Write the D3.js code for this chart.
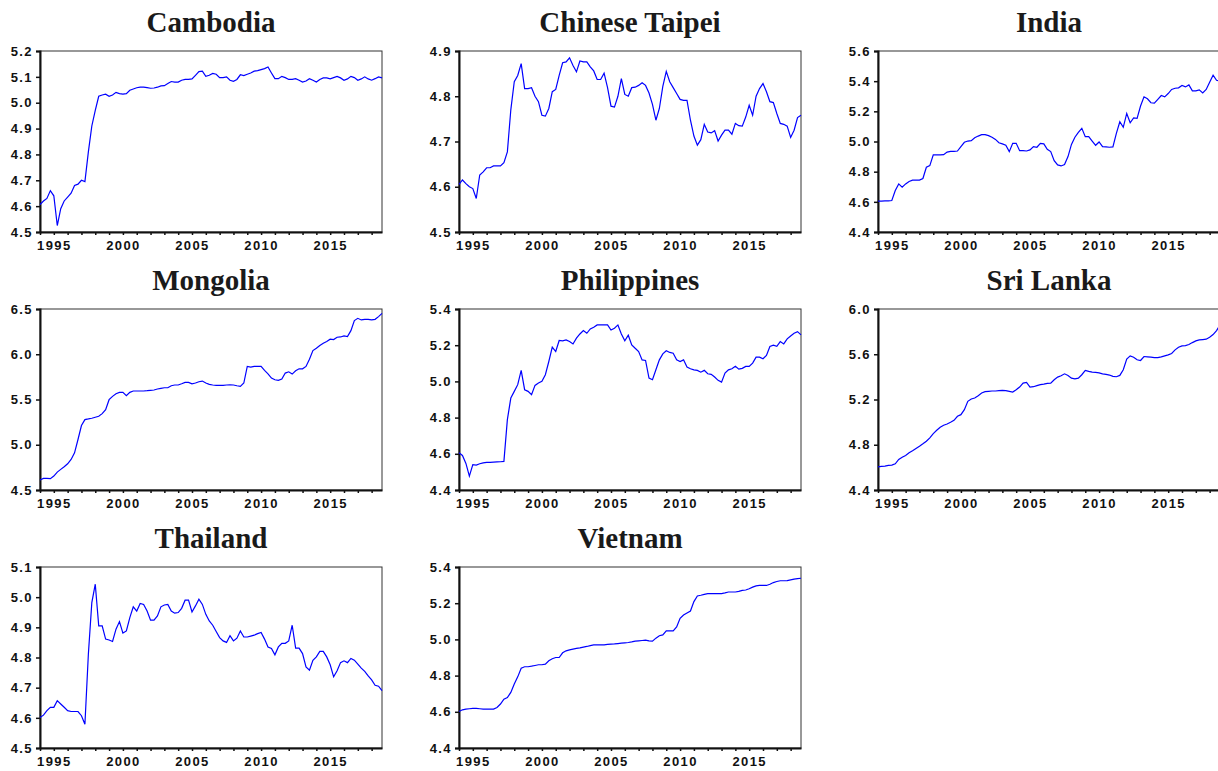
<!DOCTYPE html>
<html>
<head>
<meta charset="utf-8">
<script src="https://cdn.jsdelivr.net/npm/d3@7"></script>
<style>
  body { margin: 0; background: #fff; }
  svg { display: block; }
  .title { font-family: "Liberation Serif", "Times New Roman", serif; font-weight: bold; font-size: 29px; fill: #1a1a1a; }
  .tick text { font-family: "Liberation Sans", Arial, sans-serif; font-weight: bold; font-size: 13px; fill: #111; letter-spacing: 1.4px; }
</style>
</head>
<body>
<div id="chart"></div>
<script>
// quarterly series, 1994Q1 - 2018Q4
startYear = 1994
nObs = 100

countries = ['Cambodia', 'Chinese Taipei', 'India', 'Mongolia', 'Philippines', 'Sri Lanka', 'Thailand', 'Vietnam']

cambodia = [4.606,4.62,4.63,4.66,4.64,4.525,4.59,4.62,4.635,4.65,4.68,4.685,4.70,4.695,4.81,4.91,4.97,5.025,5.03,5.033,
  5.025,5.03,5.04,5.035,5.033,5.035,5.048,5.053,5.058,5.06,5.06,5.058,5.056,5.057,5.06,5.065,5.066,5.074,5.082,5.08,
  5.08,5.087,5.09,5.09,5.092,5.106,5.12,5.122,5.102,5.106,5.113,5.11,5.097,5.097,5.1,5.087,5.083,5.09,5.108,5.105,
  5.11,5.115,5.122,5.124,5.128,5.132,5.138,5.115,5.093,5.093,5.102,5.097,5.09,5.09,5.093,5.087,5.08,5.084,5.093,5.087,
  5.08,5.09,5.096,5.096,5.092,5.097,5.102,5.096,5.087,5.092,5.102,5.097,5.087,5.092,5.1,5.092,5.087,5.093,5.1,5.096]

taipei = [4.605,4.615,4.607,4.60,4.596,4.574,4.626,4.633,4.642,4.642,4.646,4.646,4.646,4.653,4.677,4.77,4.832,4.846,4.872,4.817,
  4.817,4.819,4.80,4.788,4.758,4.756,4.773,4.81,4.815,4.846,4.874,4.876,4.885,4.868,4.854,4.878,4.876,4.876,4.865,4.856,
  4.837,4.837,4.851,4.819,4.778,4.776,4.80,4.839,4.804,4.80,4.819,4.82,4.824,4.83,4.824,4.807,4.782,4.747,4.773,4.822,
  4.855,4.832,4.819,4.806,4.793,4.791,4.791,4.747,4.712,4.692,4.704,4.738,4.721,4.719,4.724,4.701,4.714,4.725,4.725,4.716,
  4.74,4.735,4.734,4.754,4.78,4.758,4.80,4.817,4.828,4.81,4.788,4.786,4.762,4.74,4.738,4.734,4.709,4.725,4.753,4.758]

india = [4.605,4.605,4.607,4.607,4.609,4.675,4.719,4.697,4.719,4.735,4.744,4.744,4.744,4.755,4.829,4.84,4.911,4.911,4.911,4.913,
  4.93,4.935,4.935,4.937,4.966,4.995,5.003,5.006,5.025,5.036,5.045,5.045,5.039,5.028,5.014,4.992,4.984,4.975,4.933,4.988,
  4.988,4.939,4.939,4.937,4.944,4.966,4.962,4.988,4.984,4.948,4.933,4.873,4.845,4.838,4.847,4.90,4.981,5.028,5.061,5.087,
  5.032,5.032,5.003,4.975,4.997,4.966,4.964,4.962,4.964,5.054,5.131,5.094,5.186,5.124,5.157,5.153,5.235,5.296,5.283,5.257,
  5.254,5.279,5.305,5.296,5.318,5.345,5.353,5.356,5.371,5.362,5.375,5.336,5.336,5.342,5.322,5.345,5.393,5.44,5.406,5.40]

mongolia = [4.61,4.628,4.628,4.625,4.654,4.698,4.728,4.757,4.79,4.838,4.911,5.058,5.212,5.278,5.285,5.293,5.304,5.315,5.344,5.388,
  5.498,5.535,5.564,5.579,5.579,5.542,5.579,5.594,5.594,5.594,5.594,5.597,5.601,5.605,5.616,5.623,5.63,5.63,5.652,5.66,
  5.66,5.674,5.689,5.689,5.674,5.682,5.696,5.704,5.682,5.667,5.66,5.656,5.656,5.656,5.66,5.663,5.66,5.652,5.645,5.682,
  5.865,5.858,5.865,5.865,5.865,5.821,5.784,5.737,5.718,5.711,5.726,5.792,5.806,5.781,5.817,5.839,5.839,5.865,5.946,6.041,
  6.067,6.096,6.122,6.14,6.166,6.162,6.188,6.191,6.203,6.195,6.261,6.372,6.397,6.379,6.386,6.386,6.379,6.386,6.416,6.452]

philippines = [4.606,4.591,4.547,4.477,4.54,4.538,4.545,4.55,4.553,4.553,4.554,4.555,4.556,4.558,4.789,4.908,4.945,4.982,5.061,4.954,
  4.945,4.927,4.978,4.991,5.0,5.037,5.11,5.189,5.165,5.226,5.224,5.229,5.22,5.207,5.239,5.262,5.281,5.266,5.29,5.299,
  5.312,5.312,5.312,5.312,5.284,5.294,5.312,5.262,5.224,5.255,5.202,5.183,5.165,5.119,5.116,5.018,5.009,5.064,5.119,5.152,
  5.169,5.16,5.156,5.119,5.11,5.119,5.079,5.07,5.064,5.061,5.051,5.061,5.042,5.039,5.024,5.006,4.996,5.046,5.064,5.07,
  5.084,5.068,5.072,5.083,5.083,5.101,5.134,5.134,5.125,5.143,5.193,5.2,5.194,5.22,5.207,5.235,5.251,5.266,5.275,5.257]

sriLanka = [4.605,4.608,4.611,4.617,4.62,4.632,4.67,4.69,4.705,4.729,4.746,4.767,4.787,4.808,4.831,4.861,4.899,4.928,4.955,4.972,
  4.984,4.999,5.016,5.052,5.066,5.11,5.184,5.204,5.213,5.234,5.257,5.269,5.272,5.275,5.275,5.278,5.281,5.278,5.272,5.266,
  5.287,5.31,5.345,5.351,5.31,5.313,5.322,5.331,5.336,5.342,5.345,5.375,5.398,5.41,5.427,5.413,5.389,5.383,5.389,5.419,
  5.457,5.448,5.442,5.439,5.436,5.427,5.422,5.416,5.404,5.401,5.413,5.463,5.557,5.586,5.574,5.551,5.545,5.58,5.577,5.574,
  5.571,5.571,5.577,5.586,5.595,5.607,5.639,5.662,5.674,5.677,5.686,5.703,5.718,5.727,5.73,5.733,5.75,5.774,5.809,5.859]

thailand = [4.601,4.609,4.624,4.635,4.635,4.657,4.646,4.635,4.624,4.621,4.621,4.621,4.607,4.579,4.811,4.982,5.043,4.905,4.905,4.861,
  4.858,4.853,4.894,4.919,4.881,4.888,4.932,4.968,4.954,4.979,4.976,4.954,4.924,4.924,4.938,4.968,4.974,4.976,4.954,4.947,
  4.949,4.963,4.99,4.99,4.951,4.971,4.993,4.976,4.943,4.921,4.907,4.886,4.866,4.855,4.85,4.872,4.855,4.864,4.888,4.868,
  4.868,4.871,4.874,4.879,4.883,4.861,4.835,4.83,4.809,4.835,4.847,4.847,4.855,4.907,4.831,4.831,4.813,4.769,4.758,4.791,
  4.802,4.82,4.82,4.802,4.776,4.736,4.756,4.783,4.789,4.783,4.797,4.791,4.778,4.765,4.754,4.739,4.726,4.708,4.705,4.69]

vietnam = [4.602,4.611,4.615,4.617,4.619,4.619,4.617,4.615,4.615,4.615,4.615,4.624,4.643,4.67,4.679,4.707,4.753,4.793,4.841,4.849,
  4.849,4.852,4.856,4.86,4.86,4.863,4.882,4.893,4.9,4.9,4.926,4.937,4.942,4.946,4.95,4.953,4.957,4.961,4.966,4.97,
  4.97,4.97,4.97,4.972,4.974,4.975,4.977,4.979,4.981,4.983,4.986,4.99,4.992,4.994,4.996,4.992,4.99,5.007,5.02,5.025,
  5.047,5.047,5.047,5.069,5.117,5.135,5.146,5.157,5.209,5.24,5.244,5.249,5.253,5.253,5.253,5.253,5.253,5.257,5.262,5.262,
  5.262,5.265,5.271,5.273,5.28,5.289,5.296,5.298,5.298,5.298,5.305,5.314,5.32,5.324,5.324,5.325,5.329,5.333,5.336,5.338]

seriesList = [cambodia, taipei, india, mongolia, philippines, sriLanka, thailand, vietnam]

// y axis ranges and tick step per panel
yMin = [4.5, 4.5, 4.4, 4.5, 4.4, 4.4, 4.5, 4.4]
yMax = [5.2, 4.9, 5.6, 6.5, 5.4, 6.0, 5.1, 5.4]
yStep = [0.1, 0.1, 0.2, 0.5, 0.2, 0.4, 0.1, 0.2]

yearLabels = [1995, 2000, 2005, 2010, 2015]

svgWidth = 1218
svgHeight = 771

colLeft = [40, 459, 878]
rowTop = [51, 309, 567]
plotW = 342
plotH = 181

svg = d3.select('#chart')
        .append('svg')
        .attr('width', svgWidth)
        .attr('height', svgHeight)

xScale = d3.scaleLinear()
           .domain([startYear, startYear + (nObs - 1) / 4])
           .range([0, plotW])

yearTicks = d3.range(startYear, 2019)

seriesList.forEach(function(values, k) {
    col = k % 3
    row = Math.floor(k / 3)

    g = svg.append('g')
           .attr('transform', `translate(${colLeft[col]},${rowTop[row]})`)

    yScale = d3.scaleLinear()
               .domain([yMin[k], yMax[k]])
               .range([plotH, 0])

    nTicks = Math.round((yMax[k] - yMin[k]) / yStep[k])
    yTicks = d3.range(nTicks + 1).map(j => yMin[k] + j * yStep[k])

    // title
    g.append('text')
     .attr('class', 'title')
     .attr('x', plotW / 2)
     .attr('y', -19)
     .attr('text-anchor', 'middle')
     .text(countries[k])

    // frame
    g.append('rect')
     .attr('width', plotW)
     .attr('height', plotH)
     .attr('fill', 'none')
     .attr('stroke', '#333')
     .attr('stroke-width', 1)

    // y axis
    yAxis = d3.axisLeft(yScale)
              .tickValues(yTicks)
              .tickFormat(d3.format('.1f'))
              .tickSize(4)
              .tickPadding(3)
    yg = g.append('g').call(yAxis)
    yg.select('.domain').attr('stroke', '#111').attr('stroke-width', 2)
    yg.selectAll('.tick line').attr('stroke', '#111').attr('stroke-width', 1.5)

    // x axis, yearly ticks, labels every 5 years
    xAxis = d3.axisBottom(xScale)
              .tickValues(yearTicks)
              .tickFormat(d => yearLabels.includes(d) ? d : '')
              .tickSize(3)
              .tickPadding(6)
              .tickSizeOuter(0)
    xg = g.append('g')
          .attr('transform', `translate(0,${plotH})`)
          .call(xAxis)
    xg.select('.domain').attr('stroke', '#111').attr('stroke-width', 2)
    xg.selectAll('.tick line').attr('stroke', '#111').attr('stroke-width', 1.5)

    line = d3.line()
             .x((d, i) => xScale(startYear + i / 4))
             .y(d => yScale(d))

    g.append('path')
     .datum(values)
     .attr('d', line)
     .attr('fill', 'none')
     .attr('stroke', '#0000ff')
     .attr('stroke-width', 1.2)
})
</script>
</body>
</html>
